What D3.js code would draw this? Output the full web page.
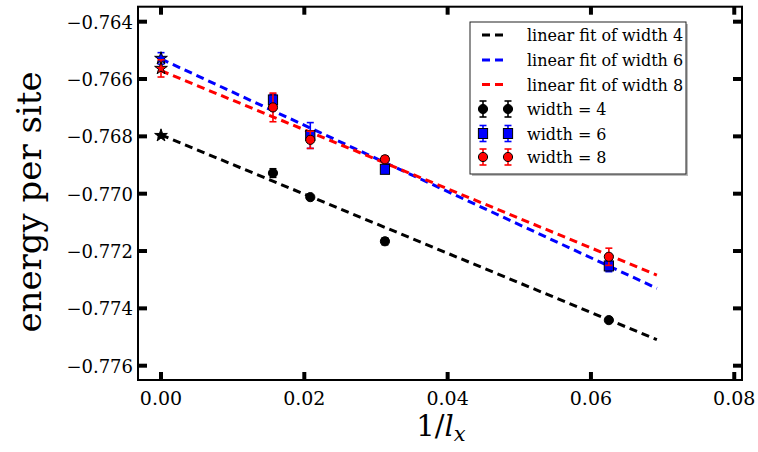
<!DOCTYPE html>
<html>
<head>
<meta charset="utf-8">
<script src="https://cdn.jsdelivr.net/npm/d3@7/dist/d3.min.js"></script>
<style>
  html, body { margin: 0; padding: 0; background: #fff; }
  svg { display: block; }
</style>
</head>
<body>
<svg id="chart" width="758" height="452"></svg>
<script>
// ---- data ----
const invLx = [1/64, 1/48, 1/32, 1/16];
const width4 = [-0.76928, -0.77012, -0.77166, -0.77441];
const err4   = [0.00015, 0.00005, 0.00012, 0.00005];
const width6 = [-0.76673, -0.76797, -0.76915, -0.77252];
const err6   = [0.0002, 0.00045, 0.00012, 0.0002];
const width8 = [-0.76699, -0.76812, -0.76880, -0.77220];
const err8   = [0.0005, 0.0003, 0.00012, 0.0003];
// extrapolated values at 1/l_x = 0 (star markers)
const extrapWidths = [4, 6, 8];
const extrapValues = [-0.76797, -0.76528, -0.76563];
const extrapErrors = [0.00005, 0.0002, 0.0003];
// linear fits: intercept, slope
const fitIntercepts = [-0.76795, -0.76530, -0.76571];
const fitSlopes     = [-0.1032, -0.1156, -0.1030];
const fitRange = [0, 0.0692];
const xTicks = [0.00, 0.02, 0.04, 0.06, 0.08];
const yTicks = [-0.764, -0.766, -0.768, -0.770, -0.772, -0.774, -0.776];
const colors = ["#000000", "#0000ff", "#ff0000"];
const fitLabels = ["linear fit of width 4", "linear fit of width 6", "linear fit of width 8"];
const pointLabels = ["width = 4", "width = 6", "width = 8"];

// ---- layout ----
const FONT = "DejaVu Serif";
const svg = d3.select("#chart").attr("font-family", FONT).style("font-family", FONT);
const L = 138, R = 742, T = 6.7, B = 380;
const x = d3.scaleLinear().domain([-0.00321, 0.08108]).range([L, R]);
const y = d3.scaleLinear().domain([-0.776499, -0.763477]).range([B, T]);
const minus = s => s.replace("-", "\u2212");

// fit lines
const fitG = svg.append("g");
fitIntercepts.forEach((b, i) => {
  const pts = fitRange.map(xv => [xv, b + fitSlopes[i] * xv]);
  fitG.append("path")
    .attr("d", d3.line().x(d => x(d[0])).y(d => y(d[1]))(pts))
    .attr("stroke", colors[i]).attr("stroke-width", 3)
    .attr("stroke-dasharray", "8,5").attr("fill", "none");
});

// marker drawing helpers
function drawMarker(g, type, cx, cy, color) {
  if (type === "circle") {
    g.append("circle").attr("cx", cx).attr("cy", cy).attr("r", 4.6)
      .attr("fill", color).attr("stroke", "#000").attr("stroke-width", 1);
  } else if (type === "square") {
    g.append("rect").attr("x", cx - 4.6).attr("y", cy - 5)
      .attr("width", 9.2).attr("height", 10)
      .attr("fill", color).attr("stroke", "#000").attr("stroke-width", 1);
  } else if (type === "star") {
    g.append("path").attr("d", d3.symbol().type(d3.symbolStar).size(50)())
      .attr("transform", `translate(${cx},${cy})`)
      .attr("fill", color).attr("stroke", "#000").attr("stroke-width", 1);
  }
}
function drawErr(g, cx, cyTop, cyBot, color) {
  g.append("line").attr("x1", cx).attr("x2", cx).attr("y1", cyTop).attr("y2", cyBot)
    .attr("stroke", color).attr("stroke-width", 1.6);
  [cyTop, cyBot].forEach(cy => g.append("line").attr("x1", cx - 3.5).attr("x2", cx + 3.5)
    .attr("y1", cy).attr("y2", cy).attr("stroke", color).attr("stroke-width", 1.6));
}

const series = [
  {vals: width4, errs: err4, type: "circle"},
  {vals: width6, errs: err6, type: "square"},
  {vals: width8, errs: err8, type: "circle"}
];
const ptsG = svg.append("g");
series.forEach((s, i) => {
  s.vals.forEach((v, j) => {
    drawErr(ptsG, x(invLx[j]), y(v + s.errs[j]), y(v - s.errs[j]), colors[i]);
    drawMarker(ptsG, s.type, x(invLx[j]), y(v), colors[i]);
  });
});
// extrapolated stars
extrapValues.forEach((v, i) => {
  drawErr(ptsG, x(0), y(v + extrapErrors[i]), y(v - extrapErrors[i]), colors[i]);
  drawMarker(ptsG, "star", x(0), y(v), colors[i]);
});

// frame
svg.append("rect").attr("x", L).attr("y", T).attr("width", R - L).attr("height", B - T)
  .attr("fill", "none").attr("stroke", "#000").attr("stroke-width", 2);

// ticks (inward, all sides)
const tickG = svg.append("g").attr("stroke", "#000").attr("stroke-width", 4);
xTicks.forEach(t => {
  tickG.append("line").attr("x1", x(t)).attr("x2", x(t)).attr("y1", B).attr("y2", B - 8);
  tickG.append("line").attr("x1", x(t)).attr("x2", x(t)).attr("y1", T).attr("y2", T + 8);
});
yTicks.forEach(t => {
  tickG.append("line").attr("x1", L).attr("x2", L + 9).attr("y1", y(t)).attr("y2", y(t));
  tickG.append("line").attr("x1", R).attr("x2", R - 9).attr("y1", y(t)).attr("y2", y(t));
});

// tick labels
xTicks.forEach(t => {
  svg.append("text").attr("x", x(t)).attr("y", 405).attr("text-anchor", "middle")
    .attr("font-size", 19).text(d3.format(".2f")(t));
});
yTicks.forEach(t => {
  svg.append("text").attr("x", 133).attr("y", y(t) + 7).attr("text-anchor", "end")
    .attr("font-size", 18).text(minus(d3.format(".3f")(t)));
});

// axis labels
svg.append("text").attr("transform", "translate(41,202) rotate(-90)")
  .attr("text-anchor", "middle").attr("font-size", 34).text("energy per site");
const xl = svg.append("text").attr("x", 441).attr("y", 436).attr("text-anchor", "middle")
  .attr("font-size", 29);
xl.append("tspan").text("1/");
xl.append("tspan").attr("font-style", "italic").text("l");
xl.append("tspan").attr("font-style", "italic").attr("font-size", 21).attr("dy", 5).text("x");

// legend
const lg = svg.append("g");
lg.append("rect").attr("x", 472).attr("y", 24).attr("width", 216).attr("height", 152)
  .attr("fill", "#bbb").attr("stroke", "none");
lg.append("rect").attr("x", 470).attr("y", 22).attr("width", 216).attr("height", 152)
  .attr("fill", "#fff").attr("stroke", "#222").attr("stroke-width", 1);
const rowY = [35, 60, 84.5, 109, 133.5, 157];
fitLabels.forEach((lab, i) => {
  lg.append("line").attr("x1", 482).attr("x2", 505).attr("y1", rowY[i]).attr("y2", rowY[i])
    .attr("stroke", colors[i]).attr("stroke-width", 3).attr("stroke-dasharray", "8,5");
  lg.append("text").attr("x", 527).attr("y", rowY[i] + 6).attr("font-size", 16).text(lab);
});
pointLabels.forEach((lab, i) => {
  const ry = rowY[i + 3];
  [483, 508].forEach(mx => {
    drawErr(lg, mx, ry - 8, ry + 8, colors[i]);
    drawMarker(lg, series[i].type, mx, ry, colors[i]);
  });
  lg.append("text").attr("x", 527).attr("y", ry + 6).attr("font-size", 16).text(lab);
});
</script>
</body>
</html>
